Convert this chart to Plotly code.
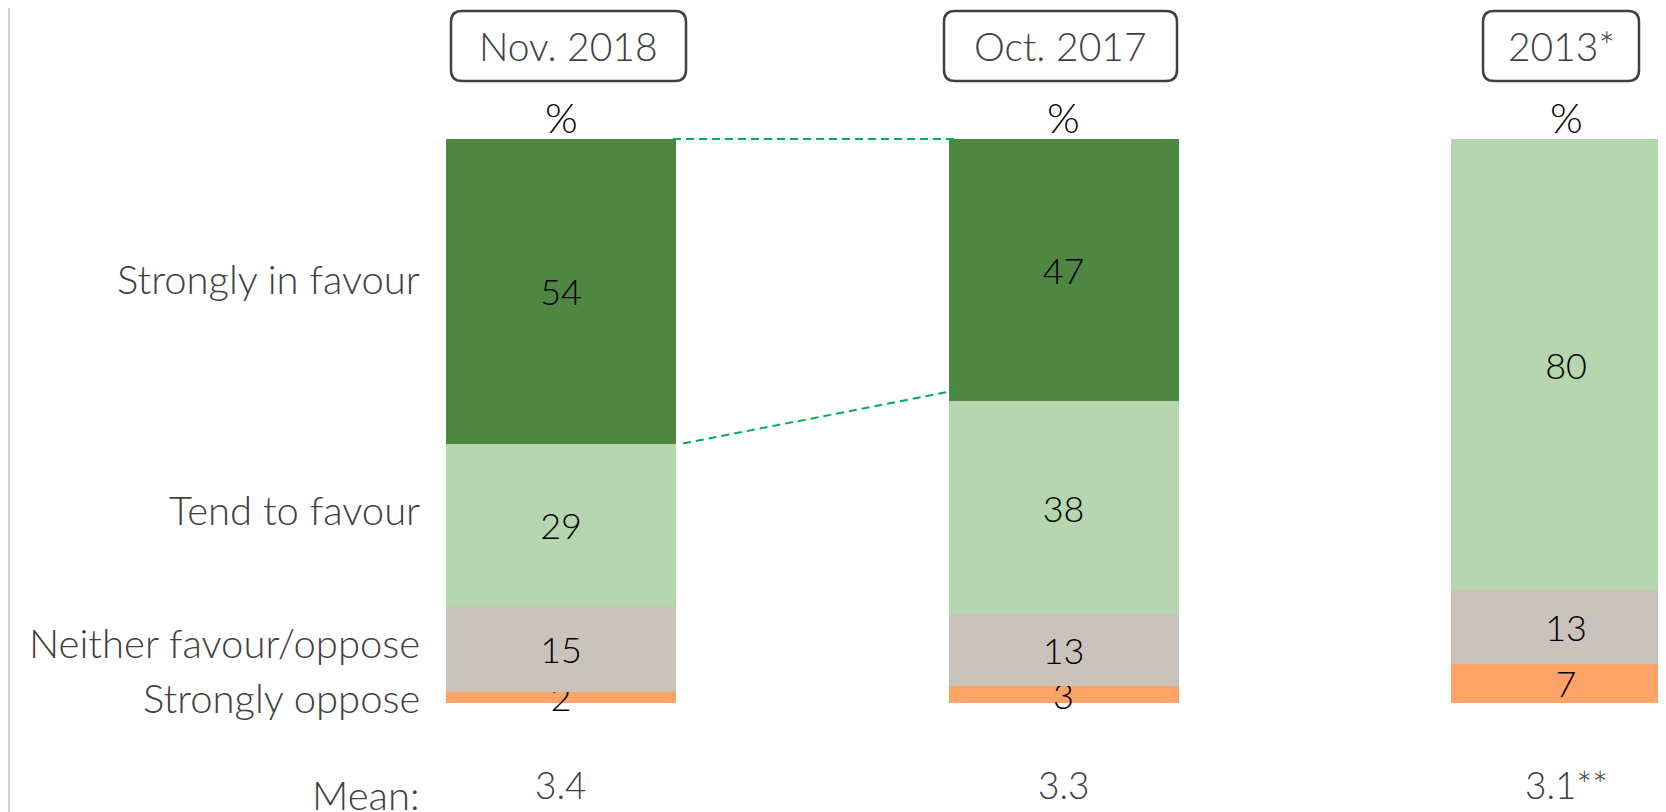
import plotly.graph_objects as go

# ---- data ----
waves = ["Nov. 2018", "Oct. 2017", "2013*"]
categories = ["Strongly oppose", "Neither favour/oppose", "Tend to favour", "Strongly in favour"]
strongly_oppose = [2, 3, 7]
neither = [15, 13, 13]
tend_to_favour = [29, 38, 80]
strongly_favour = [54, 47, None]
means = ["3.4", "3.3", "3.1**"]

series = [strongly_oppose, neither, tend_to_favour, strongly_favour]
colors = ["#FFA366", "#C9C3BC", "#B5D6AE", "#4F8642"]

# figure sits 8px inside the page (default body margin)
OFF = 8
W, H = 1666 - OFF, 812 - OFF
C0, STEP = 561 - OFF, 502.5          # pixel centre of first bar, spacing
TOP, BOT = 139 - OFF, 703 - OFF      # pixel top/bottom of 100% bar
PPU = (BOT - TOP) / 100.0
XMIN, XMAX = -C0 / STEP, (W - C0) / STEP
YMIN, YMAX = (BOT - H) / PPU, BOT / PPU
BW = 230 / STEP
FONT = "Lato"
GREY = "#404040"
WEIGHT = 300

def xpx(page_px):
    return (page_px - OFF - C0) / STEP

def ypx(page_px):
    return (BOT - (page_px - OFF)) / PPU

xs = list(range(len(waves)))

fig = go.Figure()
for name, vals, col in zip(categories, series, colors):
    fig.add_trace(go.Bar(
        x=xs, y=vals, name=name, width=BW,
        marker=dict(color=col, line=dict(width=0)),
        text=["" if v is None else str(v) for v in vals],
        texttemplate="%{text}", textposition="inside",
        insidetextanchor="middle", textangle=0,
        textfont=dict(family=FONT, size=36, color="black", weight=WEIGHT),
        cliponaxis=False, showlegend=False, hoverinfo="skip",
    ))

totals = [sum(v or 0 for v in col) for col in zip(*series)]
def lower_share(i):
    s = strongly_oppose[i] + neither[i] + tend_to_favour[i]
    return 100.0 * s / totals[i]

x0 = xs[0] + BW / 2 - 0.006
x1 = xs[1] - BW / 2 + 0.016
dash = dict(color="#00B050", width=2, dash="8px,5px")
fig.add_trace(go.Scatter(x=[x0, x1], y=[100, 100], mode="lines", line=dash,
                         showlegend=False, hoverinfo="skip", cliponaxis=False))
fig.add_trace(go.Scatter(x=[x0 + 0.02, x1], y=[lower_share(0), lower_share(1) + 2], mode="lines",
                         line=dash, showlegend=False, hoverinfo="skip", cliponaxis=False))

annotations = []
label_x = xpx(422)
yshifts = [-1, 6, 15, 12]
cum = 0
for name, vals, ys in zip(categories, series, yshifts):
    v = 100.0 * vals[0] / totals[0]
    annotations.append(dict(x=label_x, y=cum + v / 2, xref="x", yref="y",
                            text=name, showarrow=False, xanchor="right", yanchor="middle",
                            yshift=ys,
                            font=dict(family=FONT, size=40, color=GREY, weight=WEIGHT)))
    cum += v

shapes = []
box_lr = [(451, 686), (944, 1177), (1483, 1639)]   # page pixels
BT, BB = 11 - OFF, 81 - OFF
for i, w in enumerate(waves):
    L, R = box_lr[i][0] - OFF, box_lr[i][1] - OFF
    cx = (L + R) / 2
    annotations.append(dict(x=cx / W, y=1 - (46 - OFF) / H, xref="paper", yref="paper",
                            text=w, showarrow=False, xanchor="center", yanchor="middle",
                            font=dict(family=FONT, size=39, color=GREY, weight=WEIGHT)))
    annotations.append(dict(x=xs[i], y=ypx(117), xref="x", yref="y", text="%",
                            showarrow=False, xanchor="center", yanchor="middle",
                            font=dict(family=FONT, size=42, color="black", weight=WEIGHT)))
    annotations.append(dict(x=xs[i], y=ypx(784), xref="x", yref="y", text=means[i],
                            showarrow=False, xanchor="center", yanchor="middle",
                            font=dict(family=FONT, size=37, color=GREY, weight=WEIGHT)))
    rad = 11
    def P(x, y):
        return f"{x / W:.5f},{1 - y / H:.5f}"
    T, B = BT, BB
    path = (f"M {P(L + rad, T)} L {P(R - rad, T)} Q {P(R, T)} {P(R, T + rad)} "
            f"L {P(R, B - rad)} Q {P(R, B)} {P(R - rad, B)} L {P(L + rad, B)} "
            f"Q {P(L, B)} {P(L, B - rad)} L {P(L, T + rad)} Q {P(L, T)} {P(L + rad, T)} Z")
    shapes.append(dict(type="path", path=path, xref="paper", yref="paper",
                       line=dict(color=GREY, width=2.5), fillcolor="white", layer="below"))

annotations.append(dict(x=label_x, y=ypx(795), xref="x", yref="y", text="Mean:",
                        showarrow=False, xanchor="right", yanchor="middle",
                        font=dict(family=FONT, size=40, color=GREY, weight=WEIGHT)))

shapes.append(dict(type="line", xref="paper", yref="paper", x0=0.0006, x1=0.0006, y0=0, y1=1,
                   line=dict(color="#BFBFBF", width=1.5)))

fig.update_layout(
    width=W, height=H, barmode="stack", barnorm="percent",
    margin=dict(l=0, r=0, t=0, b=0),
    paper_bgcolor="white", plot_bgcolor="white",
    xaxis=dict(range=[XMIN, XMAX], visible=False, fixedrange=True),
    yaxis=dict(range=[YMIN, YMAX], visible=False, fixedrange=True),
    uniformtext=dict(minsize=36, mode="show"),
    annotations=annotations, shapes=shapes,
)

fig.write_html("out.html")
